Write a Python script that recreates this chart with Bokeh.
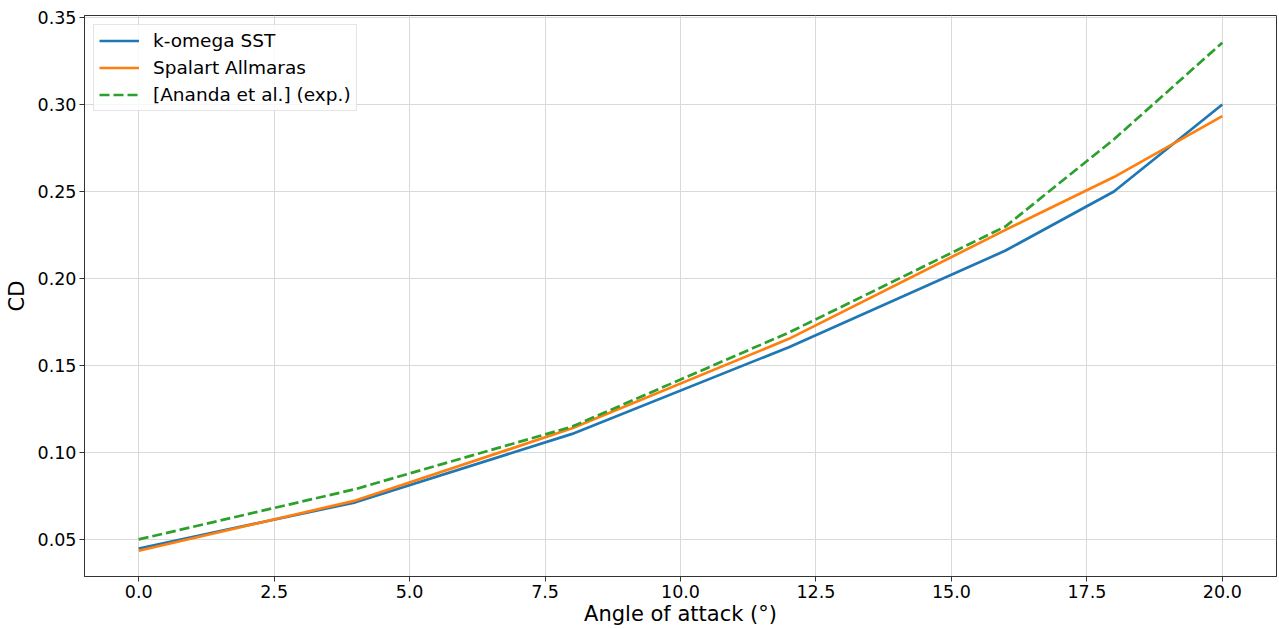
from bokeh.plotting import figure
from bokeh.models import Range1d, Legend, LegendItem, FixedTicker
from bokeh.embed import file_html
from bokeh.resources import INLINE

# Data
angles = [0, 4, 8, 12, 16, 18, 20]
cd_sst = [0.045, 0.0715, 0.1108, 0.1606, 0.2161, 0.2500, 0.3000]
cd_sa = [0.0437, 0.0725, 0.1140, 0.1654, 0.2280, 0.2583, 0.2933]
cd_exp = [0.0502, 0.0791, 0.1150, 0.1690, 0.2300, 0.2800, 0.3355]
x_ticks = [0.0, 2.5, 5.0, 7.5, 10.0, 12.5, 15.0, 17.5, 20.0]
y_ticks = [0.05, 0.10, 0.15, 0.20, 0.25, 0.30, 0.35]

FONT = "DejaVu Sans"

p = figure(frame_width=1192, frame_height=561, output_backend="svg",
           toolbar_location=None,
           x_range=Range1d(-1.0, 21.0), y_range=Range1d(0.0289, 0.3511),
           min_border_left=84, min_border_top=15, min_border_right=3,
           min_border_bottom=53)
p.background_fill_color = "white"
p.border_fill_color = "white"
p.outline_line_color = "#333333"
p.outline_line_width = 1

r1 = p.line(angles, cd_sst, line_color="#1f77b4", line_width=2.7)
r2 = p.line(angles, cd_sa, line_color="#ff7f0e", line_width=2.7)
r3 = p.line(angles, cd_exp, line_color="#2ca02c", line_width=2.7, line_dash="10 4")

for ax in (p.xaxis[0], p.yaxis[0]):
    ax.major_label_text_font = FONT
    ax.major_label_text_font_size = "17.5px"
    ax.major_label_text_color = "#000000"
    ax.axis_label_text_font = FONT
    ax.axis_label_text_font_size = "21px"
    ax.axis_label_text_font_style = "normal"
    ax.axis_label_text_color = "#000000"
    ax.axis_line_color = "#333333"
    ax.major_tick_line_color = "#333333"
    ax.major_tick_out = 5
    ax.major_tick_in = 0
    ax.minor_tick_line_color = None

p.xaxis.ticker = FixedTicker(ticks=x_ticks)
p.yaxis.ticker = FixedTicker(ticks=y_ticks)
p.xaxis.major_label_overrides = {t: f"{t:.1f}" for t in x_ticks}
p.yaxis.major_label_overrides = {t: f"{t:.2f}" for t in y_ticks}
p.xaxis.axis_label = "Angle of attack (°)"
p.yaxis.axis_label = "CD"
p.xaxis.major_label_standoff = 3
p.yaxis.major_label_standoff = 3
p.xaxis.axis_label_standoff = 1
p.yaxis.axis_label_standoff = 6

p.xgrid.grid_line_color = "#d9d9d9"
p.ygrid.grid_line_color = "#d9d9d9"
p.xgrid.grid_line_width = 1
p.ygrid.grid_line_width = 1
p.xgrid.ticker = FixedTicker(ticks=x_ticks)
p.ygrid.ticker = FixedTicker(ticks=y_ticks)

legend = Legend(items=[
    LegendItem(label="k-omega SST", renderers=[r1]),
    LegendItem(label="Spalart Allmaras", renderers=[r2]),
    LegendItem(label="[Ananda et al.] (exp.)", renderers=[r3]),
], location="top_left")
legend.margin = 9
legend.padding = 5
legend.spacing = 6
legend.label_height = 21
legend.glyph_height = 21
legend.glyph_width = 40
legend.label_standoff = 14
legend.label_text_font = FONT
legend.label_text_font_size = "18.5px"
legend.label_text_color = "#000000"
legend.border_line_color = "#cccccc"
legend.border_line_width = 1
legend.background_fill_alpha = 0.8
p.add_layout(legend, "center")

open("out.html", "w").write(file_html(p, INLINE))
